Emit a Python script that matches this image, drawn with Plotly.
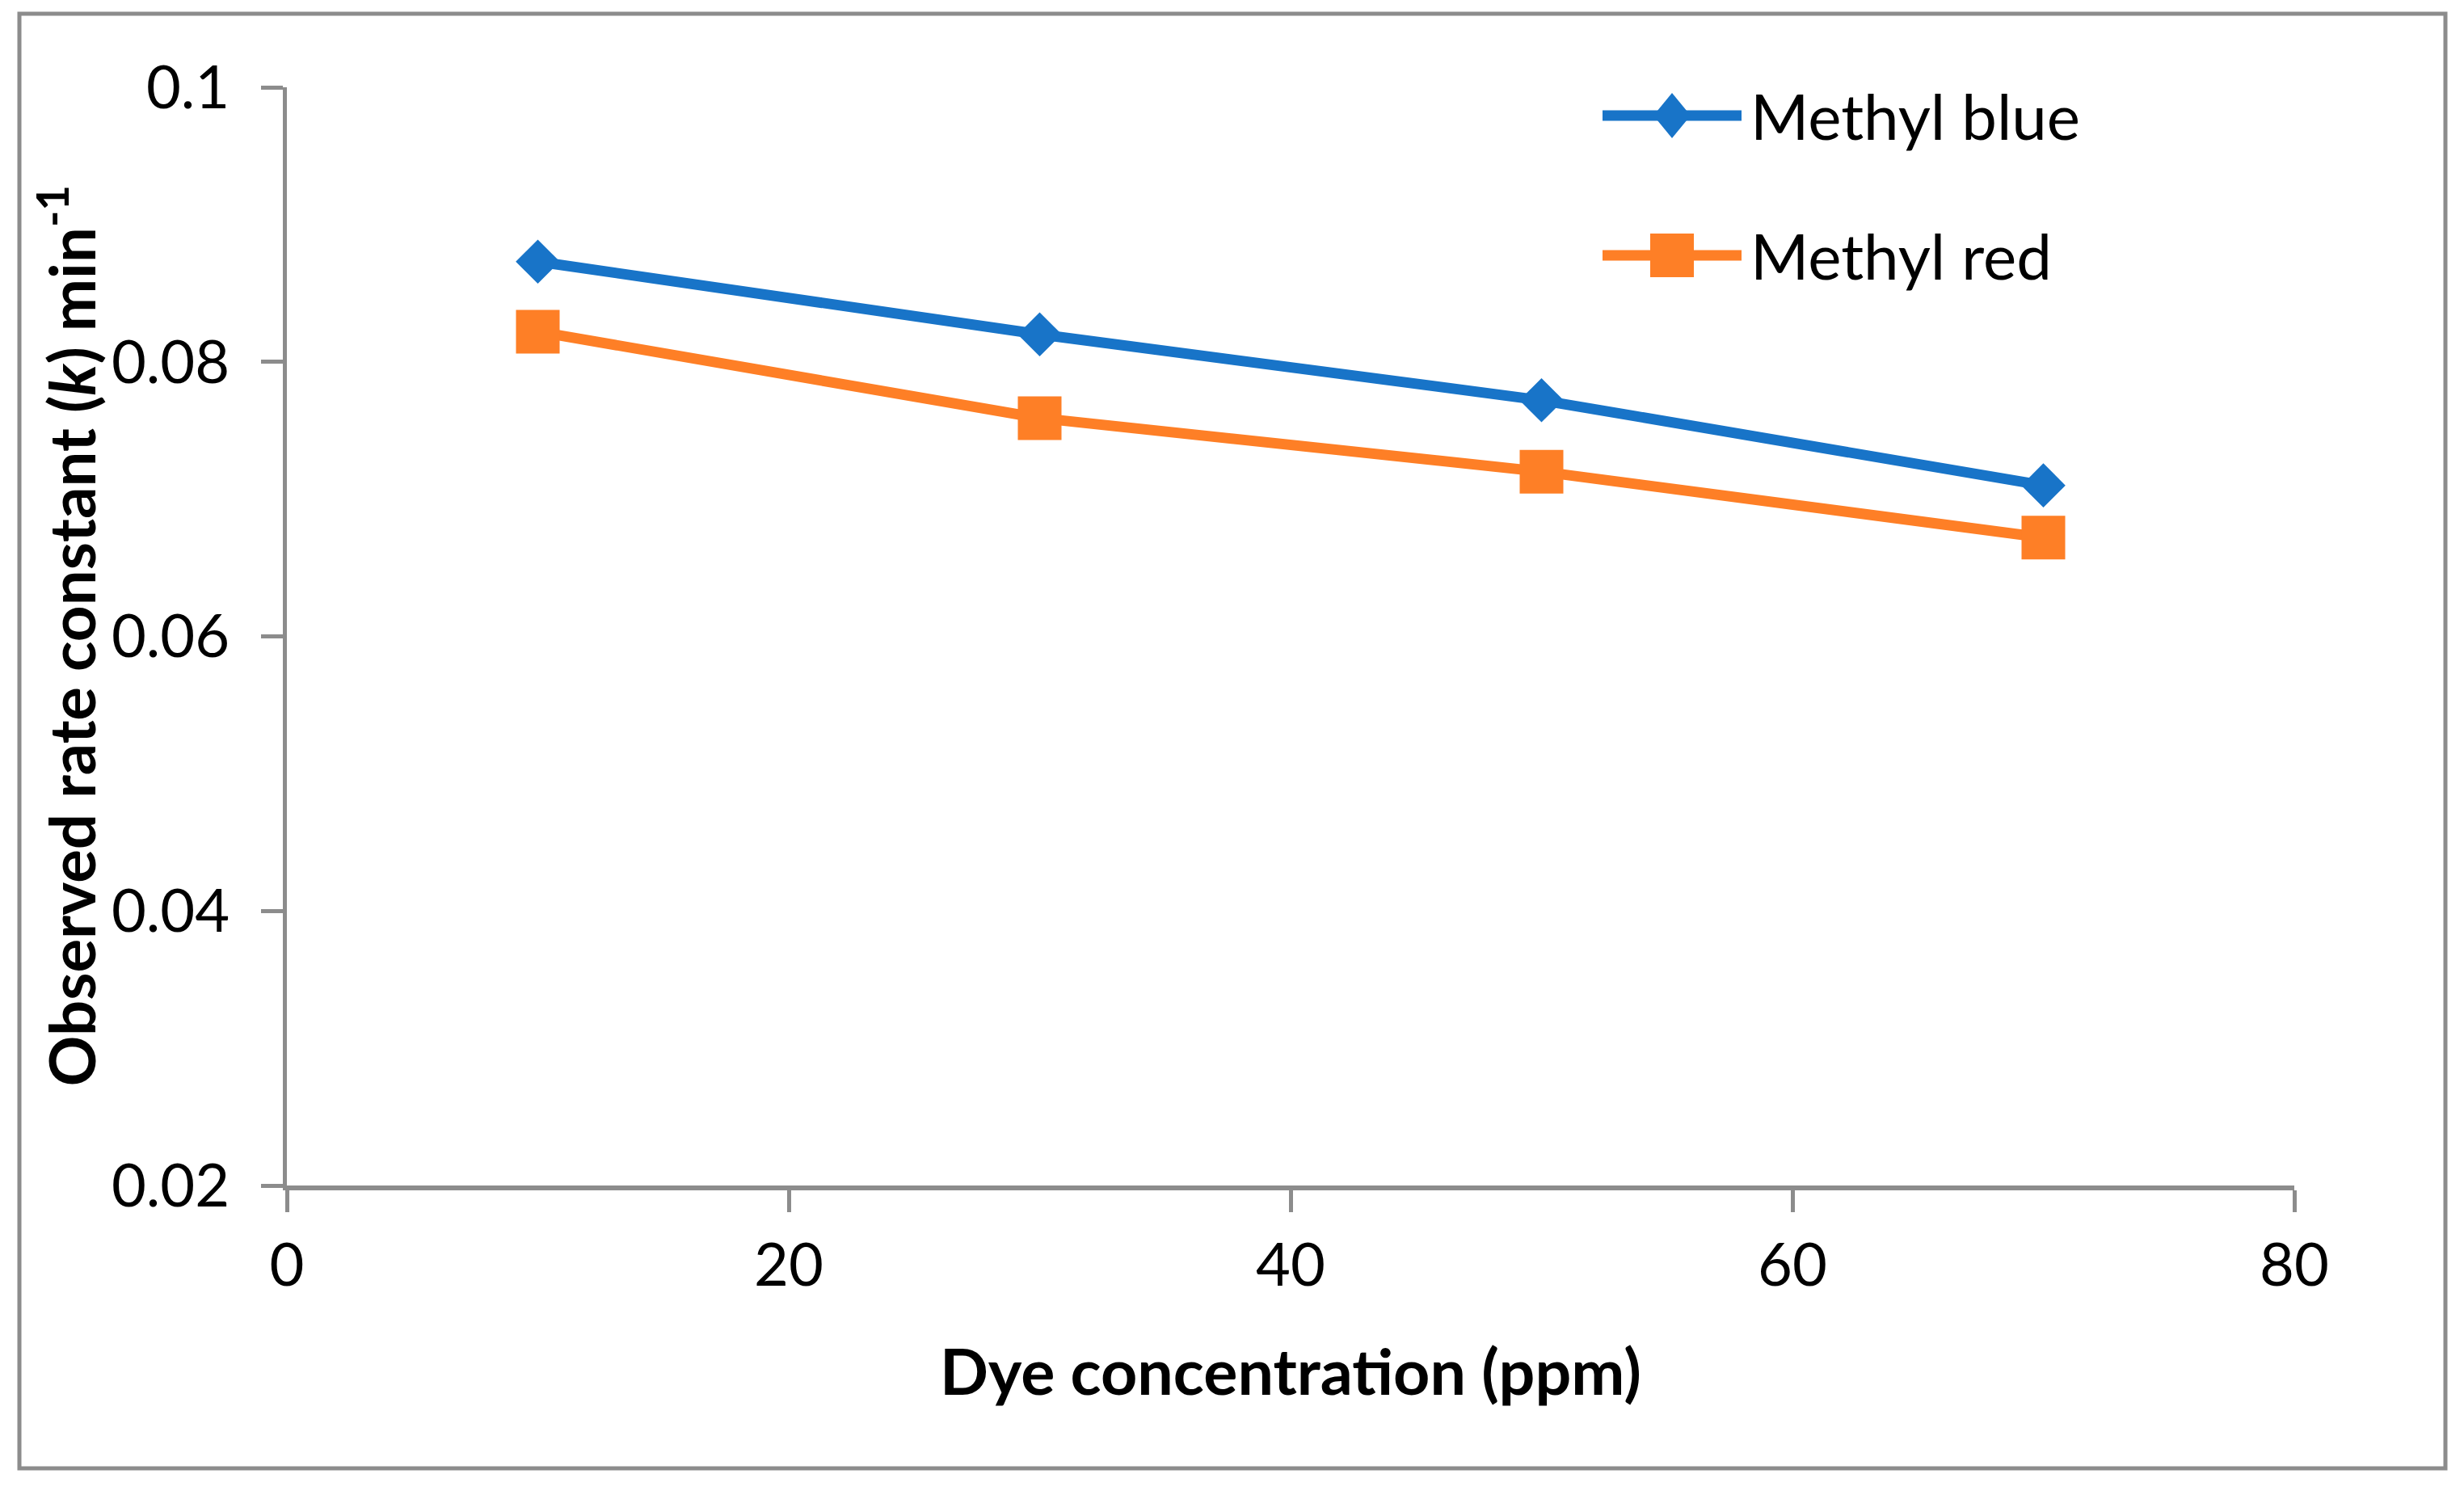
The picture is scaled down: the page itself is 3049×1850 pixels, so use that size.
import plotly.graph_objects as go

# ---- data ----
dye_conc = [10, 30, 50, 70]
methyl_blue_k = [0.0873, 0.0820, 0.0772, 0.0710]
methyl_red_k = [0.0822, 0.0759, 0.0720, 0.0672]
series_names = ["Methyl blue", "Methyl red"]
x_tick_vals = [0, 20, 40, 60, 80]
x_tick_text = ["0", "20", "40", "60", "80"]
y_tick_vals = [0.02, 0.04, 0.06, 0.08, 0.1]
y_tick_text = ["0.02", "0.04", "0.06", "0.08", "0.1"]

BLUE = "#1874c8"
ORANGE = "#fe7f26"
GREY = "#8c8c8c"
FONT = "Lato"

OFF = 8  # default page body margin
W, H = 3049 - OFF, 1850 - OFF
ML, MT = 355 - OFF, 108 - OFF
MR = W - (2839 - OFF)
MB = H - (1467 - OFF)
PW, PH = W - ML - MR, H - MT - MB


def px_x(p):
    """screen pixel x -> paper x"""
    return (p - OFF - ML) / PW


def px_y(p):
    """screen pixel y -> paper y"""
    return (H - MB - (p - OFF)) / PH


fig = go.Figure()
fig.add_trace(go.Scatter(
    x=dye_conc, y=methyl_blue_k, name=series_names[0], mode="lines+markers",
    line=dict(color=BLUE, width=13),
    marker=dict(symbol="diamond", size=42, color=BLUE),
    cliponaxis=False, showlegend=False))
fig.add_trace(go.Scatter(
    x=dye_conc, y=methyl_red_k, name=series_names[1], mode="lines+markers",
    line=dict(color=ORANGE, width=13),
    marker=dict(symbol="square", size=54, color=ORANGE),
    cliponaxis=False, showlegend=False))

shapes = []
# outer chart border
shapes.append(dict(type="rect", xref="paper", yref="paper",
                   x0=px_x(24), x1=px_x(3026), y0=px_y(1817), y1=px_y(17),
                   line=dict(color=GREY, width=5), fillcolor="rgba(0,0,0,0)", layer="below"))

# custom legend keys
key_cx = px_x(2069)
rows = [(px_y(143), BLUE, "diamond"), (px_y(316), ORANGE, "square")]
annotations = []
for (ky, col, sym), name in zip(rows, series_names):
    shapes.append(dict(type="line", xref="paper", yref="paper",
                       xsizemode="pixel", ysizemode="pixel", xanchor=key_cx, yanchor=ky,
                       x0=-86, x1=86, y0=0, y1=0, line=dict(color=col, width=13)))
    if sym == "diamond":
        path = "M0,28 L23,0 L0,-28 L-23,0 Z"
    else:
        path = "M-27,-27 L27,-27 L27,27 L-27,27 Z"
    shapes.append(dict(type="path", xref="paper", yref="paper",
                       xsizemode="pixel", ysizemode="pixel", xanchor=key_cx, yanchor=ky,
                       path=path, fillcolor=col, line=dict(color=col, width=0)))
    annotations.append(dict(text=name, xref="paper", yref="paper", x=px_x(2164), y=ky,
                            xanchor="left", yanchor="middle", showarrow=False,
                            font=dict(family=FONT, size=78, color="black")))

# axis titles
annotations.append(dict(text="<b>Dye concentration (ppm)</b>", xref="paper", yref="paper",
                        x=0.5, y=px_y(1695), xanchor="center", yanchor="middle", showarrow=False,
                        font=dict(family=FONT, size=79, color="black")))
annotations.append(dict(text="<b>Observed rate constant (<i>k</i>) min<sup>-1</sup></b>",
                        xref="paper", yref="paper", x=px_x(83), y=0.5, textangle=-90,
                        xanchor="center", yanchor="middle", showarrow=False,
                        font=dict(family=FONT, size=78, color="black")))

axis_common = dict(showgrid=False, zeroline=False, showline=True, linecolor=GREY,
                   ticks="outside", tickcolor=GREY, tickwidth=5, ticklen=27,
                   tickfont=dict(family=FONT, size=74, color="black"))

fig.update_layout(
    width=W, height=H,
    margin=dict(l=ML, r=MR, t=MT, b=MB, autoexpand=False),
    paper_bgcolor="white", plot_bgcolor="white",
    showlegend=False,
    xaxis=dict(range=[0, 80], tickvals=x_tick_vals, ticktext=x_tick_text,
               linewidth=6, ticklabelstandoff=2, **axis_common),
    yaxis=dict(range=[0.02, 0.1], tickvals=y_tick_vals, ticktext=y_tick_text,
               linewidth=5, ticklabelstandoff=24, **axis_common),
    shapes=shapes, annotations=annotations,
)

fig.write_html("out.html")
